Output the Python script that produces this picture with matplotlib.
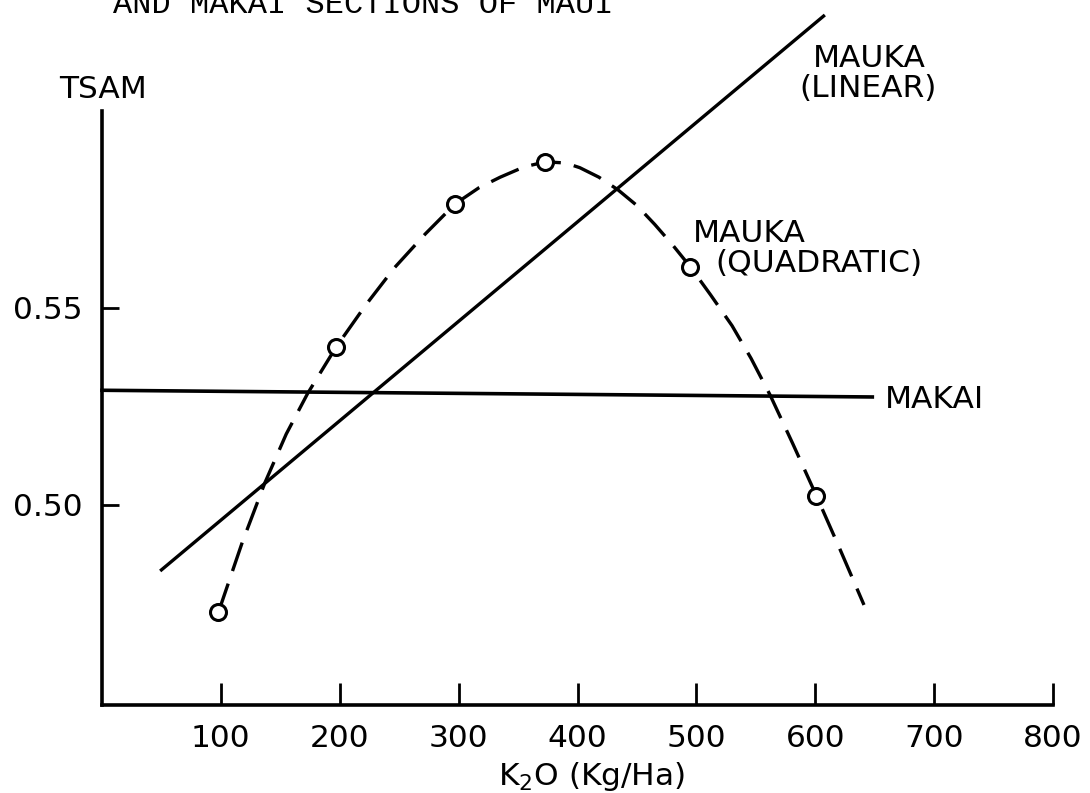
import matplotlib
matplotlib.use("Agg")
import matplotlib.pyplot as plt

# Datos
k2o_obs = [98, 197, 297, 373, 495, 601]
tsam_obs = [0.4728, 0.5401, 0.5764, 0.5871, 0.5604, 0.5023]

# curva cuadratica (mauka), puntos leidos sobre la linea discontinua
k2o_quad = [98, 118, 137, 155, 173, 197, 222, 246, 272, 297, 317, 335, 355, 373,
            390, 402, 418, 434, 450, 465, 480, 495, 512, 530, 546, 562, 581, 601, 621, 641]
tsam_quad = [0.4728, 0.4905, 0.5056, 0.5180, 0.5283, 0.5401, 0.5508, 0.5602,
             0.5688, 0.5764, 0.5805, 0.5832, 0.5858, 0.5871, 0.5868, 0.5856,
             0.5832, 0.5800, 0.5760, 0.5712, 0.5660, 0.5604, 0.5533, 0.5455,
             0.5372, 0.5279, 0.5156, 0.5023, 0.4886, 0.4746]

# recta mauka (lineal)
k2o_lin = [50, 607]
tsam_lin = [0.4835, 0.6241]

# makai
k2o_makai = [0, 648]
tsam_makai = [0.5291, 0.5274]

xticks = [100, 200, 300, 400, 500, 600, 700, 800]
yticks = [0.50, 0.55]
ytick_labels = ["0.50", "0.55"]

plt.rcParams['font.family'] = ['DejaVu Sans']

fig = plt.figure(figsize=(10.9, 7.93), dpi=100)
ax = fig.add_axes([102/1090, 1 - 705/793, (1053 - 102)/1090, (705 - 111)/793])

ax.plot(k2o_lin, tsam_lin, color='black', lw=2.4, clip_on=False)
ax.plot(k2o_makai, tsam_makai, color='black', lw=2.6, clip_on=False)
ax.plot(k2o_quad, tsam_quad, color='black', lw=2.4, linestyle=(0, (9, 4)), clip_on=False)
ax.plot(k2o_obs, tsam_obs, 'o', color='black', markerfacecolor='white',
        markersize=11.5, markeredgewidth=2.2, clip_on=False, zorder=5)

ax.set_xlim(0, 800)
ax.set_ylim(0.4492, 0.600)

for lado in ['top', 'right']:
    ax.spines[lado].set_visible(False)
for lado in ['left', 'bottom']:
    ax.spines[lado].set_linewidth(2.6)

ax.set_xticks(xticks)
ax.set_yticks(yticks)
ax.set_yticklabels(ytick_labels)
ax.tick_params(axis='x', direction='in', length=16, width=2, pad=14, labelsize=22.5)
ax.tick_params(axis='y', direction='in', length=12, width=2, pad=14, labelsize=22.5)

# textos
fs = 22.5
ax.text(0.8, 0.6033, "TSAM", ha='center', va='baseline', fontsize=fs, clip_on=False)
ax.text(598, 0.6112, "MAUKA", ha='left', va='baseline', fontsize=fs, clip_on=False)
ax.text(587, 0.6036, "(LINEAR)", ha='left', va='baseline', fontsize=fs, clip_on=False)
ax.text(497, 0.5668, "MAUKA", ha='left', va='baseline', fontsize=fs, clip_on=False)
ax.text(515.6, 0.5591, "(QUADRATIC)", ha='left', va='baseline', fontsize=fs, clip_on=False)
ax.text(658.5, 0.5246, "MAKAI", ha='left', va='baseline', fontsize=fs, clip_on=False)
ax.text(412, 0.4289, "K$_2$O (Kg/Ha)", ha='center', va='baseline', fontsize=fs, clip_on=False)

# titulo cortado arriba (mecanografiado)
fig.text(113/1090, 1 - 13/793, "AND MAKAI SECTIONS OF MAUI", family='Liberation Mono',
         fontsize=23, ha='left', va='baseline')

fig.savefig("out.png", dpi=100, facecolor='white')
